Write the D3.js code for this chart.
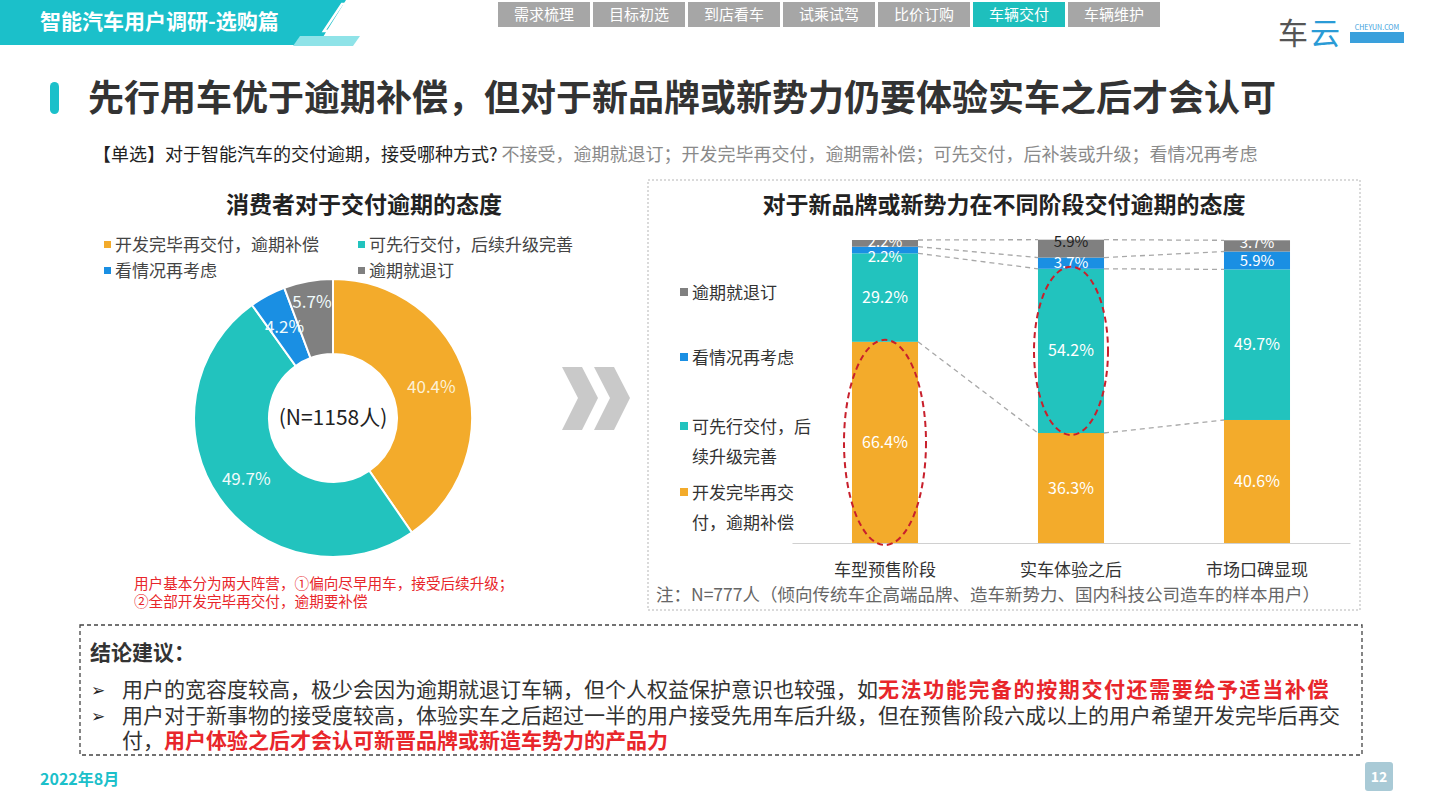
<!DOCTYPE html>
<html>
<head>
<meta charset="utf-8">
<script src="https://cdn.jsdelivr.net/npm/d3@7"></script>
<style>
  body { margin: 0; background: #fff; }
  svg { display: block; font-family: "Noto Sans CJK SC", "Noto Sans", sans-serif; }
</style>
</head>
<body>
<svg id="slide" width="1440" height="809"></svg>
<script>
// donut: attitude of all consumers
const donutCats = ['开发完毕再交付，逾期补偿', '可先行交付，后续升级完善', '看情况再考虑', '逾期就退订'];
const donutValues = [40.4, 49.7, 4.2, 5.7];

// stacked bars: new brands at different stages
const stages = ['车型预售阶段', '实车体验之后', '市场口碑显现'];
const seriesKeys = ['dev', 'first', 'wait', 'cancel'];
const seriesLegend = [['开发完毕再交', '付，逾期补偿'], ['可先行交付，后', '续升级完善'], ['看情况再考虑'], ['逾期就退订']];
const devFirst = [66.4, 36.3, 40.6];
const deliverFirst = [29.2, 54.2, 49.7];
const waitSee = [2.2, 3.7, 5.9];
const cancelOrder = [2.2, 5.9, 3.7];

const navTabs = ['需求梳理', '目标初选', '到店看车', '试乘试驾', '比价订购', '车辆交付', '车辆维护'];

const colors = ['#F3AB2B', '#22C3BE', '#1A8FE3', '#808080'];
const teal = '#1BC0CA';
const red = '#E8262B';

const svg = d3.select('#slide');

// ---------- header ----------
var head = svg.append('g');
head.append('path').attr('d', 'M0,0 L346,0 L318,45 L0,45 Z').attr('fill', teal);
head.append('path').attr('d', 'M300,36 L360,36 L353,46 L293,46 Z').attr('fill', '#8FE3E8');
head.append('path').attr('d', 'M342,4 L368,4 L350,31 L324,31 Z')
    .attr('fill', 'none').attr('stroke', '#fff').attr('stroke-width', 2.5);
head.append('text').attr('x', 40).attr('y', 29).attr('fill', '#fff')
    .attr('font-size', 21).attr('font-weight', 'bold').text('智能汽车用户调研-选购篇');

var tabW = 95;
var tabs = head.selectAll('g.tab').data(navTabs).join('g')
    .attr('class', 'tab')
    .attr('transform', (d, i) => 'translate(' + (498 + i * tabW) + ',2)');
tabs.append('rect').attr('width', tabW - 3).attr('height', 25)
    .attr('fill', (d) => d == '车辆交付' ? '#1EBFBD' : '#A6A6A6');
tabs.append('text').attr('x', (tabW - 3) / 2).attr('y', 18).attr('text-anchor', 'middle')
    .attr('fill', '#fff').attr('font-size', 15).text((d) => d);

// logo
head.append('text').attr('x', 1278).attr('y', 44).attr('font-size', 30).attr('fill', '#555').text('车');
head.append('text').attr('x', 1310).attr('y', 44).attr('font-size', 30).attr('fill', '#2A9BD6').text('云');
head.append('rect').attr('x', 1350).attr('y', 32).attr('width', 54).attr('height', 11).attr('fill', '#3AA0DC');
head.append('text').attr('x', 1377).attr('y', 30).attr('text-anchor', 'middle')
    .attr('font-size', 7).attr('fill', '#3AA0DC').text('CHEYUN.COM');

// ---------- title ----------
svg.append('rect').attr('x', 50).attr('y', 82).attr('width', 9).attr('height', 32).attr('rx', 4.5).attr('fill', teal);
svg.append('text').attr('x', 88).attr('y', 111).attr('font-size', 36).attr('font-weight', 'bold').attr('fill', '#333')
    .text('先行用车优于逾期补偿，但对于新品牌或新势力仍要体验实车之后才会认可');

var q = svg.append('text').attr('x', 93).attr('y', 161).attr('font-size', 18);
q.append('tspan').attr('fill', '#222').text('【单选】对于智能汽车的交付逾期，接受哪种方式?');
q.append('tspan').attr('fill', '#8a8a8a').attr('dx', 4)
    .text('不接受，逾期就退订；开发完毕再交付，逾期需补偿；可先交付，后补装或升级；看情况再考虑');

// ---------- left: donut ----------
var left = svg.append('g');
left.append('text').attr('x', 364).attr('y', 213).attr('text-anchor', 'middle')
    .attr('font-size', 23).attr('font-weight', 'bold').attr('fill', '#222').text('消费者对于交付逾期的态度');

var lg = left.selectAll('g.lg').data(donutCats).join('g')
    .attr('class', 'lg')
    .attr('transform', (d, i) => 'translate(' + (i % 2 ? 358 : 104) + ',' + (i < 2 ? 245 : 271) + ')');
lg.append('rect').attr('x', 0).attr('y', -4).attr('width', 7).attr('height', 7).attr('fill', (d, i) => colors[i]);
lg.append('text').attr('x', 11).attr('y', 6).attr('font-size', 17).attr('fill', '#444').text((d) => d);

var cx = 333, cy = 418;
var pie = d3.pie().sort(null).value((d) => d);
var arc = d3.arc().innerRadius(64).outerRadius(139);
var donut = left.append('g').attr('transform', 'translate(' + cx + ',' + cy + ')');
donut.selectAll('path').data(pie(donutValues)).join('path')
    .attr('d', arc).attr('fill', (d, i) => colors[i]).attr('stroke', '#fff').attr('stroke-width', 2);
// the last small slice has its label pushed outward, as in the slide
var labelR = [103, 106, 103, 118];
donut.selectAll('text').data(pie(donutValues)).join('text')
    .attr('transform', (d, i) => {
        var a = (d.startAngle + d.endAngle) / 2;
        return 'translate(' + (labelR[i] * Math.sin(a)) + ',' + (-labelR[i] * Math.cos(a)) + ')';
    })
    .attr('text-anchor', 'middle').attr('dy', '0.35em')
    .attr('font-size', 17).attr('fill', (d, i) => i == 0 ? '#FDF1D6' : '#F0FBFB')
    .text((d) => d.data.toFixed(1) + '%');
donut.append('text').attr('text-anchor', 'middle').attr('dy', '0.35em')
    .attr('font-size', 21).attr('fill', '#222').text('(N=1158人)');

left.append('text').attr('x', 134).attr('y', 589).attr('font-size', 14.6).attr('fill', red)
    .text('用户基本分为两大阵营，①偏向尽早用车，接受后续升级；');
left.append('text').attr('x', 134).attr('y', 607).attr('font-size', 14.6).attr('fill', red)
    .text('②全部开发完毕再交付，逾期要补偿');

// chevrons
var chev = svg.append('g').attr('fill', '#C9C9C9');
[562, 594].forEach((x0) => {
    chev.append('path').attr('d', 'M' + x0 + ',367 L' + (x0 + 20) + ',367 L' + (x0 + 36) + ',398 L' + (x0 + 20) + ',430 L' + x0 + ',430 L' + (x0 + 16) + ',398 Z');
});

// ---------- right: stacked bars ----------
var right = svg.append('g');
right.append('rect').attr('x', 648).attr('y', 180).attr('width', 712).attr('height', 430)
    .attr('fill', 'none').attr('stroke', '#B5B5B5').attr('stroke-dasharray', '2,2');
right.append('text').attr('x', 1004).attr('y', 213).attr('text-anchor', 'middle')
    .attr('font-size', 23).attr('font-weight', 'bold').attr('fill', '#222').text('对于新品牌或新势力在不同阶段交付逾期的态度');

var table = stages.map((s, i) => ({ stage: s, dev: devFirst[i], first: deliverFirst[i], wait: waitSee[i], cancel: cancelOrder[i] }));
var stacked = d3.stack().keys(seriesKeys)(table);

var x = d3.scaleBand().domain(stages).range([792, 1350]).paddingInner(0.645).paddingOuter(0.3225);
var y = d3.scaleLinear().domain([0, 100]).range([543, 240]);

// series lines between bars
var links = [];
stacked.forEach((layer) => {
    for (var i = 0; i < stages.length - 1; i++) {
        links.push({ x1: x(stages[i]) + x.bandwidth(), y1: y(layer[i][1]), x2: x(stages[i + 1]), y2: y(layer[i + 1][1]) });
    }
});
right.append('g').selectAll('line').data(links).join('line')
    .attr('x1', (d) => d.x1).attr('y1', (d) => d.y1).attr('x2', (d) => d.x2).attr('y2', (d) => d.y2)
    .attr('stroke', '#A8A8A8').attr('stroke-width', 1.3).attr('stroke-dasharray', '5,4');

var layers = right.append('g').selectAll('g').data(stacked).join('g').attr('fill', (d, i) => colors[i]);
layers.selectAll('rect').data((d) => d).join('rect')
    .attr('x', (d) => x(d.data.stage)).attr('width', x.bandwidth())
    .attr('y', (d) => y(d[1])).attr('height', (d) => y(d[0]) - y(d[1]));

// label centres; the two thin top segments are spread so they stay readable
function labelY(layerIdx, i) {
    var d = stacked[layerIdx][i];
    var mid = (y(d[0]) + y(d[1])) / 2;
    if (layerIdx == 2) {
        var top = stacked[3][i];
        return Math.max(mid, y(top[1]) + 2 + 15);
    }
    if (layerIdx == 3) return Math.min(mid, y(d[1]) + 2);
    return mid;
}
var labels = right.append('g');
stacked.forEach((layer, s) => {
    labels.append('g').selectAll('text').data(layer).join('text')
        .attr('x', (d) => x(d.data.stage) + x.bandwidth() / 2)
        .attr('y', (d, i) => labelY(s, i))
        .attr('dy', '0.35em').attr('text-anchor', 'middle').attr('font-size', s >= 2 ? 15 : 16)
        .attr('fill', (d, i) => (s == 3 && i == 1) ? '#222' : '#fff')
        .text((d) => (d[1] - d[0]).toFixed(1) + '%');
});

var xAxis = right.append('g').attr('transform', 'translate(0,543)')
    .call(d3.axisBottom(x).tickSize(0).tickPadding(21));
xAxis.select('.domain').attr('stroke', '#D0D0D0').attr('stroke-width', 1.2);
xAxis.selectAll('text').attr('font-size', 17).attr('fill', '#333')
    .attr('font-family', '"Noto Sans CJK SC", sans-serif');

// highlight ellipses
var hl = [{ stage: stages[0], layer: 0, rx: 41 }, { stage: stages[1], layer: 1, rx: 37 }];
right.append('g').selectAll('ellipse').data(hl).join('ellipse')
    .attr('cx', (d) => x(d.stage) + x.bandwidth() / 2)
    .attr('cy', (d) => { var v = stacked[d.layer][stages.indexOf(d.stage)]; return (y(v[0]) + y(v[1])) / 2; })
    .attr('rx', (d) => d.rx)
    .attr('ry', (d) => { var v = stacked[d.layer][stages.indexOf(d.stage)]; return (y(v[0]) - y(v[1])) / 2 + 2; })
    .attr('fill', 'none').attr('stroke', '#C8202C').attr('stroke-width', 2).attr('stroke-dasharray', '6,4');

// right legend (top = last series)
var legendY = [[493, 523], [427, 457], [358], [293]];
var rl = right.selectAll('g.rl').data(seriesLegend).join('g').attr('class', 'rl');
rl.append('rect').attr('x', 680).attr('y', (d, i) => legendY[i][0] - 5)
    .attr('width', 8).attr('height', 8).attr('fill', (d, i) => colors[i]);
rl.each(function (lines, i) {
    d3.select(this).selectAll('text').data(lines).join('text')
        .attr('x', 692).attr('y', (t, j) => legendY[i][j] + 6)
        .attr('font-size', 17).attr('fill', '#333').text((t) => t);
});

right.append('text').attr('x', 656).attr('y', 601).attr('font-size', 17.5).attr('fill', '#666')
    .text('注：N=777人（倾向传统车企高端品牌、造车新势力、国内科技公司造车的样本用户）');

// ---------- conclusion ----------
var box = svg.append('g');
box.append('rect').attr('x', 80).attr('y', 625).attr('width', 1282).attr('height', 130)
    .attr('fill', 'none').attr('stroke', '#444').attr('stroke-width', 1.3).attr('stroke-dasharray', '4,3');
box.append('text').attr('x', 90).attr('y', 660).attr('font-size', 21).attr('font-weight', 'bold').attr('fill', '#333').text('结论建议：');

var bullets = [
    { y: 697, bullet: true, parts: [['用户的宽容度较高，极少会因为逾期就退订车辆，但个人权益保护意识也较强，如', false], ['无法功能完备的按期交付还需要给予适当补偿', true, 1.6]] },
    { y: 723, bullet: true, parts: [['用户对于新事物的接受度较高，体验实车之后超过一半的用户接受先用车后升级，但在预售阶段六成以上的用户希望开发完毕后再交', false]] },
    { y: 748, bullet: false, parts: [['付，', false], ['用户体验之后才会认可新晋品牌或新造车势力的产品力', true]] }
];
bullets.forEach((b) => {
    if (b.bullet) {
        box.append('text').attr('x', 91).attr('y', b.y - 1).attr('font-size', 17).attr('fill', '#222')
            .attr('font-family', '"DejaVu Sans", sans-serif').text('➢');
    }
    var t = box.append('text').attr('x', 122).attr('y', b.y).attr('font-size', 21);
    b.parts.forEach((p) => {
        t.append('tspan').attr('fill', p[1] ? red : '#333').attr('font-weight', p[1] ? 'bold' : 'normal')
            .attr('letter-spacing', p[2] || 0).text(p[0]);
    });
});

// ---------- footer ----------
svg.append('text').attr('x', 40).attr('y', 785).attr('font-size', 16).attr('font-weight', 'bold').attr('fill', teal).text('2022年8月');
svg.append('rect').attr('x', 1365).attr('y', 762).attr('width', 28).attr('height', 29).attr('rx', 3).attr('fill', '#A9CAD6');
svg.append('text').attr('x', 1379).attr('y', 782).attr('text-anchor', 'middle').attr('font-size', 14)
    .attr('font-weight', 'bold').attr('fill', '#fff').text('12');
</script>
</body>
</html>
